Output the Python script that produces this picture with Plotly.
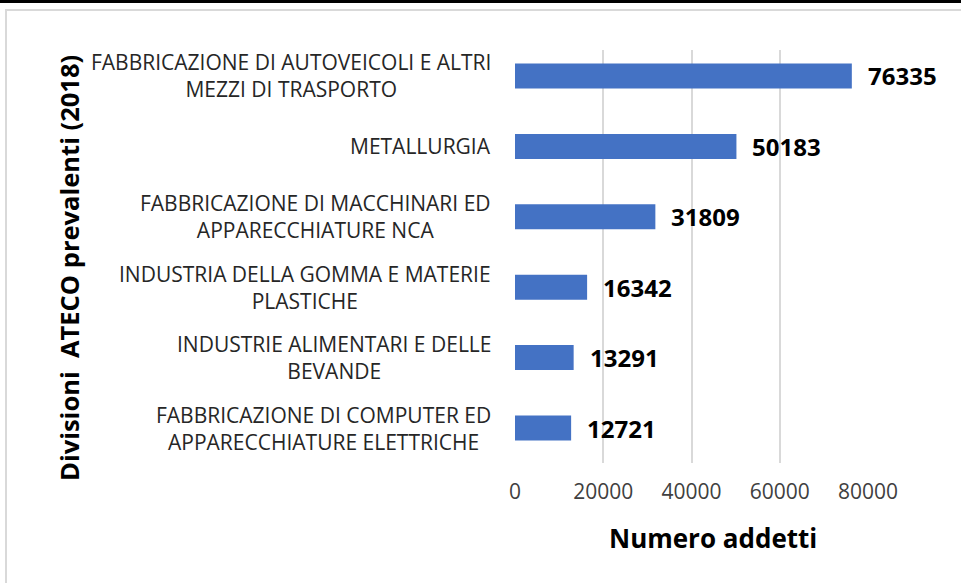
import plotly.graph_objects as go

categories = [
    "FABBRICAZIONE DI AUTOVEICOLI E ALTRI<br>MEZZI DI TRASPORTO",
    "METALLURGIA",
    "FABBRICAZIONE DI MACCHINARI ED<br>APPARECCHIATURE NCA",
    "INDUSTRIA DELLA GOMMA E MATERIE<br>PLASTICHE",
    "INDUSTRIE ALIMENTARI E DELLE<br>BEVANDE",
    "FABBRICAZIONE DI COMPUTER ED<br>APPARECCHIATURE ELETTRICHE",
]
values = [76335, 50183, 31809, 16342, 13291, 12721]
x_ticks = [0, 20000, 40000, 60000, 80000]

W, H = 961, 583
L, R, T, B = 515, 868, 50, 463
pw, ph = R - L, B - T

def px(x):
    return (x - L) / pw

def py(y):
    return (B - y) / ph

FONT = "Open Sans"

fig = go.Figure()
fig.add_trace(go.Bar(
    x=values, y=categories, orientation="h",
    marker=dict(color="#4472C4", line=dict(width=0)),
    width=0.355, hoverinfo="x+y",
))

annotations = []
for c, v in zip(categories, values):
    annotations.append(dict(
        x=v, y=c, xref="x", yref="y", text=f"<b>{v}</b>", showarrow=False,
        xanchor="left", yanchor="middle", xshift=14,
        font=dict(family=FONT, size=24, color="#000000"),
    ))
    annotations.append(dict(
        x=px(493), y=c, xref="paper", yref="y", text=c, showarrow=False,
        xanchor="right", yanchor="middle", align="center",
        font=dict(family=FONT, size=21, color="#262626"),
    ))

annotations.append(dict(
    x=px(69), y=py(268), xref="paper", yref="paper",
    text="<b>Divisioni  ATECO prevalenti (2018)</b>", showarrow=False,
    textangle=-90, xanchor="center", yanchor="middle",
    font=dict(family=FONT, size=25.5, color="#000000"),
))
annotations.append(dict(
    x=px(713), y=py(538), xref="paper", yref="paper",
    text="<b>Numero addetti</b>", showarrow=False,
    xanchor="center", yanchor="middle",
    font=dict(family=FONT, size=26, color="#000000"),
))

shapes = [
    dict(type="line", xref="paper", yref="paper",
         x0=px(0), x1=px(W), y0=py(1.5), y1=py(1.5),
         line=dict(color="#000000", width=3)),
    dict(type="rect", xref="paper", yref="paper",
         x0=px(6), x1=px(W + 20), y0=py(10), y1=py(H + 20),
         line=dict(color="#d9d9d9", width=2)),
]

fig.update_layout(
    width=W, height=H,
    margin=dict(l=L, r=W - R, t=T, b=H - B, pad=0),
    paper_bgcolor="#ffffff", plot_bgcolor="#ffffff",
    showlegend=False,
    annotations=annotations,
    shapes=shapes,
    xaxis=dict(
        range=[0, 80000], tickvals=x_ticks, ticktext=[str(t) for t in x_ticks],
        showgrid=True, gridcolor="#d9d9d9", gridwidth=2,
        zeroline=False, showline=False, ticks="",
        ticklabelstandoff=14,
        tickfont=dict(family=FONT, size=21, color="#404040"),
    ),
    yaxis=dict(
        type="category", categoryorder="array", categoryarray=categories,
        range=[5.497, -0.369],
        showticklabels=False, showgrid=False, zeroline=False, showline=False,
        ticks="",
    ),
)

fig.write_html(
    "out.html",
    config={"displayModeBar": False},
    post_script="document.body.style.margin='0';document.body.style.padding='0';document.body.style.overflow='hidden';",
)
